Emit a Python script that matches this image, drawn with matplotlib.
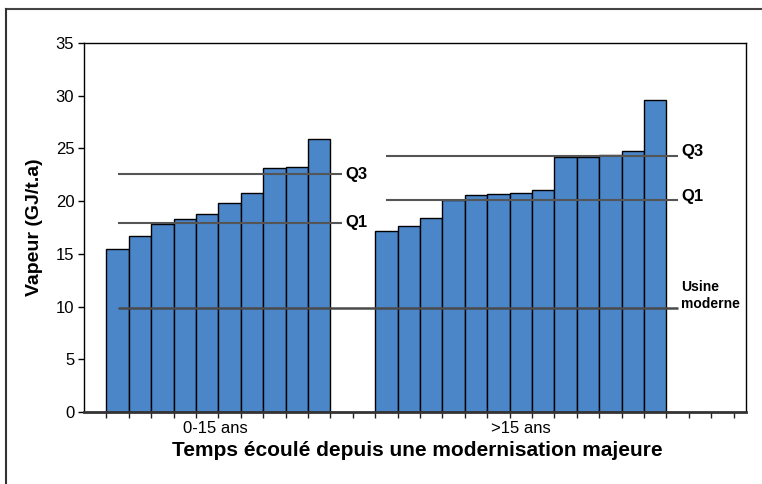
import matplotlib
matplotlib.use("Agg")
import matplotlib.pyplot as plt
from matplotlib.lines import Line2D
from matplotlib import font_manager

# ---- data ----
groups = ["0-15 ans", ">15 ans"]
values_recent = [15.5, 16.7, 17.8, 18.3, 18.8, 19.8, 20.8, 23.1, 23.2, 25.9]
values_old = [17.2, 17.6, 18.4, 20.1, 20.6, 20.7, 20.8, 21.1, 24.2, 24.2, 24.4, 24.8, 29.6]
q1_values = [17.95, 20.13]
q3_values = [22.57, 24.25]
usine_moderne = 9.85
yticks = [0, 5, 10, 15, 20, 25, 30, 35]

names = {f.name for f in font_manager.fontManager.ttflist}
narrow = "Liberation Sans Narrow" if "Liberation Sans Narrow" in names else "Liberation Sans"
plt.rcParams['font.family'] = ['Liberation Sans', 'DejaVu Sans']

fig = plt.figure(figsize=(7.62, 4.84), dpi=100)
ax = fig.add_axes([84/762, 1-412/484, (746-84)/762, (412-43)/484])

bar_color = "#4a86c8"
start1 = 1
start2 = start1 + len(values_recent) + 2
x1 = [start1 + 0.5 + i for i in range(len(values_recent))]
x2 = [start2 + 0.5 + i for i in range(len(values_old))]
ax.bar(x1, values_recent, width=1.0, color=bar_color, edgecolor="black", linewidth=1.0, zorder=2)
ax.bar(x2, values_old, width=1.0, color=bar_color, edgecolor="black", linewidth=1.0, zorder=2)

line_col = "#555555"
g1_l, g1_r = x1[0], x1[-1] + 1
g2_l, g2_r = x2[0], x2[-1] + 1
ax.hlines(q3_values[0], g1_l, g1_r, color=line_col, lw=1.5, zorder=3)
ax.hlines(q1_values[0], g1_l, g1_r, color=line_col, lw=1.5, zorder=3)
ax.hlines(q3_values[1], g2_l, g2_r, color=line_col, lw=1.5, zorder=3)
ax.hlines(q1_values[1], g2_l, g2_r, color=line_col, lw=1.5, zorder=3)
ax.hlines(usine_moderne, g1_l, g2_r, color="#4a4a4a", lw=1.8, zorder=3)

lab_kw = dict(fontsize=12, fontweight="bold", va="center", ha="left")
ax.text(g1_r + 0.15, q3_values[0], "Q3", **lab_kw)
ax.text(g1_r + 0.15, q1_values[0], "Q1", **lab_kw)
ax.text(g2_r + 0.15, q3_values[1] + 0.45, "Q3", **lab_kw)
ax.text(g2_r + 0.15, q1_values[1] + 0.35, "Q1", **lab_kw)
ax.text(g2_r + 0.15, usine_moderne + 1.2, "Usine\nmoderne", fontsize=10, fontweight="bold",
        va="center", ha="left", linespacing=1.2)

ax.set_xlim(0, 29.55)
ax.set_ylim(0, 35)
ax.set_yticks(yticks)
ax.set_yticklabels([str(v) for v in yticks], fontfamily=narrow, fontsize=12)
ax.set_xticks(list(range(1, 30)))
ax.set_xticklabels([])
ax.tick_params(axis="x", direction="out", length=4, width=1, color="#222222")
ax.tick_params(axis="y", direction="out", length=4, width=1, pad=3)

for s in ["top", "right", "left"]:
    ax.spines[s].set_color("black")
    ax.spines[s].set_linewidth(1.0)
ax.spines["bottom"].set_color("#333333")
ax.spines["bottom"].set_linewidth(2.0)

centers = [start1 + len(values_recent) / 2 - 0.15, start2 + len(values_old) / 2]
for c, g in zip(centers, groups):
    ax.text(c, -1.6, g, ha="center", va="center", fontsize=12, fontfamily=narrow)

ax.set_ylabel("Vapeur (GJ/t.a)", fontsize=14, fontweight="bold", labelpad=9)
fig.text(417 / 762, 1 - 451/484, "Temps écoulé depuis une modernisation majeure",
         ha="center", va="center", fontsize=15, fontweight="bold")

# outer frame lines
fig.add_artist(Line2D([6/762, 1.0], [1-9/484, 1-9/484], color="#444444", lw=1.5, transform=fig.transFigure))
fig.add_artist(Line2D([6/762, 6/762], [0.0, 1-9/484], color="#333333", lw=1.5, transform=fig.transFigure))

fig.savefig("out.png", dpi=100)
